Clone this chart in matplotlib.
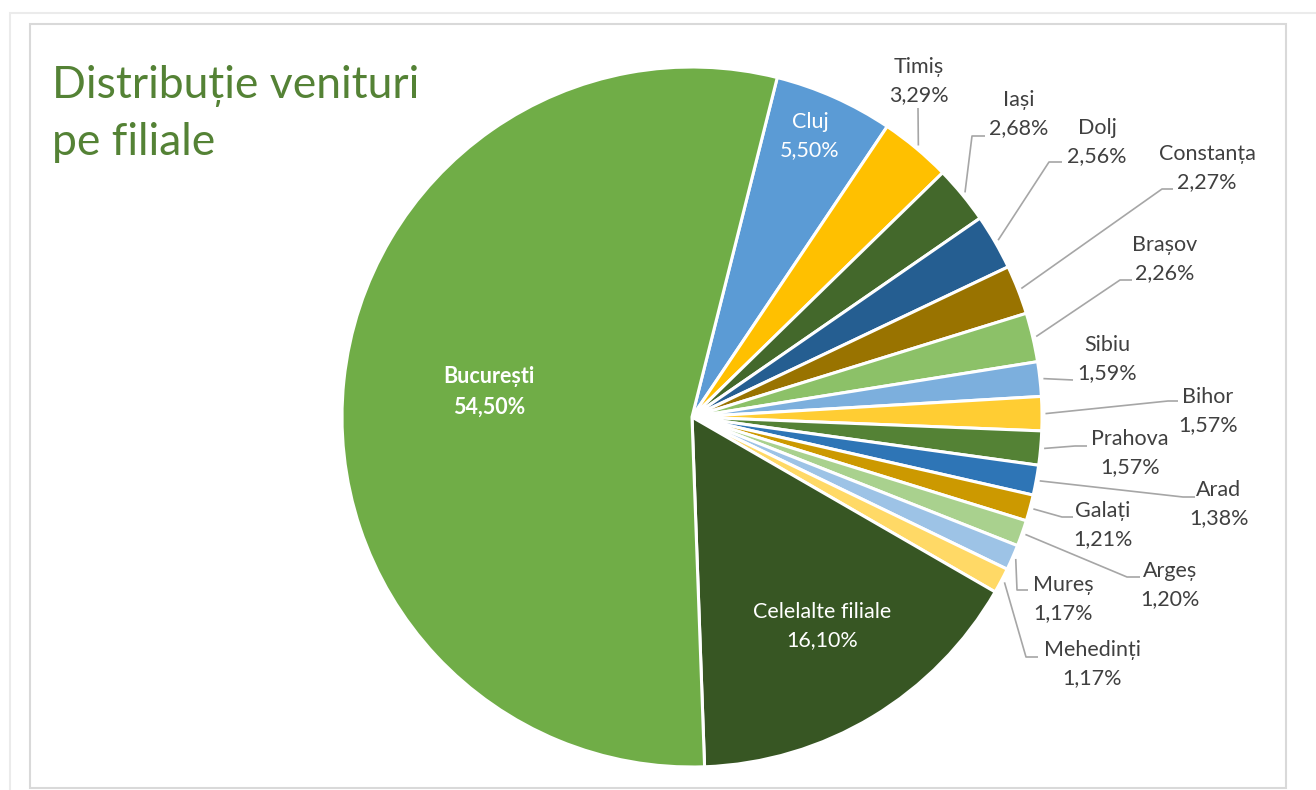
import matplotlib
matplotlib.use("Agg")
import matplotlib.pyplot as plt
from matplotlib.patches import Rectangle
import numpy as np

# ---- data ----
branches = ['Cluj', 'Timiș', 'Iași', 'Dolj', 'Constanța', 'Brașov', 'Sibiu', 'Bihor',
            'Prahova', 'Arad', 'Galați', 'Argeș', 'Mureș', 'Mehedinți',
            'Celelalte filiale', 'București']
shares = [5.50, 3.29, 2.68, 2.56, 2.27, 2.26, 1.59, 1.57,
          1.57, 1.38, 1.21, 1.20, 1.17, 1.17,
          16.10, 54.50]
colors = ['#5B9BD5', '#FFC000', '#43682B', '#255E91', '#997300', '#8CC168', '#7CAFDD', '#FFCD33',
          '#548235', '#2E75B6', '#CC9900', '#A9D18E', '#9DC3E6', '#FFD966',
          '#375623', '#70AD47']
title_lines = ['Distribuție venituri', 'pe filiale']

W, H = 1316, 790
fig = plt.figure(figsize=(W / 100, H / 100), dpi=100)
ax = fig.add_axes([0, 0, 1, 1])

def P(x, y):
    return (x, H - y)

cx, cy = P(692, 417)
R = 350

wedges, _ = ax.pie(shares, colors=colors, startangle=75.9, counterclock=False,
                   center=(cx, cy), radius=R,
                   wedgeprops=dict(edgecolor='white', linewidth=2.2))
ax.set_xlim(0, W)
ax.set_ylim(0, H)
ax.set_aspect('equal')
ax.axis('off')

def fmt(v):
    return f"{v:.2f}".replace('.', ',') + '%'

txt_color = '#404040'
font = 'Lato'
fs = 15.5
ls = 1.56

# inside labels (white)
inside = {
    'Cluj': ((810, 136), 'normal'),
    'Celelalte filiale': ((822, 626), 'normal'),
    'București': ((489, 392), 'bold'),
}
# outside labels: text centre, leader elbow, leader end
outside = {
    'Timiș': ((919, 81), [(918, 108)]),
    'Iași': ((1019, 114), [(972, 136), (985, 136)]),
    'Dolj': ((1097, 142), [(1049, 162), (1062, 162)]),
    'Constanța': ((1207, 168), [(1162, 189), (1173, 189)]),
    'Brașov': ((1165, 259), [(1120, 280), (1132, 280)]),
    'Sibiu': ((1107, 359), [(1073, 380)]),
    'Bihor': ((1208, 411), [(1168, 401), (1178, 401)]),
    'Prahova': ((1130, 453), [(1075, 446), (1087, 446)]),
    'Arad': ((1219, 504), [(1183, 497), (1195, 497)]),
    'Galați': ((1103, 525), [(1062, 517), (1073, 517)]),
    'Argeș': ((1170, 585), [(1127, 577), (1140, 577)]),
    'Mureș': ((1063, 599), [(1017, 590), (1028, 590)]),
    'Mehedinți': ((1092, 664), [(1026, 657), (1038, 657)]),
}

for w, name, val in zip(wedges, branches, shares):
    label = f"{name}\n{fmt(val)}"
    if name in inside:
        (tx, ty), weight = inside[name]
        ax.text(*P(tx, ty), label, ha='center', va='center', color='white',
                fontsize=fs, fontfamily=font, fontweight=weight, linespacing=ls)
    else:
        (tx, ty), pts = outside[name]
        ax.text(*P(tx, ty), label, ha='center', va='center', color=txt_color,
                fontsize=fs, fontfamily=font, linespacing=ls)
        mid = np.deg2rad((w.theta1 + w.theta2) / 2)
        rx = cx + R * 1.01 * np.cos(mid)
        ry = cy + R * 1.01 * np.sin(mid)
        xs = [rx] + [p[0] for p in pts]
        ys = [ry] + [H - p[1] for p in pts]
        ax.plot(xs, ys, color='#A6A6A6', lw=1.2, solid_capstyle='butt')

# title
ax.text(*P(52, 98), title_lines[0], ha='left', va='baseline', color='#548235',
        fontsize=32, fontfamily=font)
ax.text(*P(52, 155), title_lines[1], ha='left', va='baseline', color='#548235',
        fontsize=32, fontfamily=font)

# frames
ax.add_patch(Rectangle(P(10, 800), 1310, 787, fill=False, edgecolor='#EBEBEB', lw=1.5))
ax.add_patch(Rectangle(P(30, 788), 1256, 764, fill=False, edgecolor='#D9D9D9', lw=1.5))

fig.savefig('out.png', dpi=100, facecolor='white')
